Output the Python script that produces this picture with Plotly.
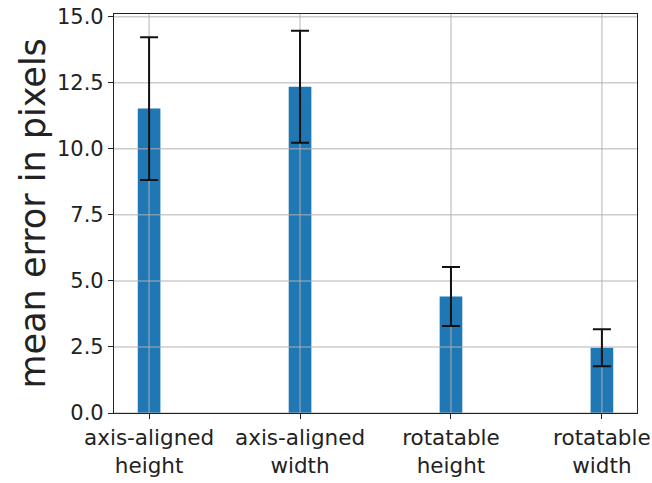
import plotly.graph_objects as go

categories = ["axis-aligned<br>height", "axis-aligned<br>width", "rotatable<br>height", "rotatable<br>width"]
means = [11.52, 12.35, 4.41, 2.47]
errors = [2.70, 2.12, 1.12, 0.70]
ytick_vals = [0.0, 2.5, 5.0, 7.5, 10.0, 12.5, 15.0]

xpos = list(range(len(categories)))
x_range = [-0.2325, 3.2325]
y_range = [0, 15.1]

fig = go.Figure()
fig.add_trace(go.Bar(
    x=xpos, y=means, width=0.15,
    marker=dict(color="#1f77b4", line=dict(width=0)),
    showlegend=False, hoverinfo="skip",
))

grid_color = "rgba(176,176,176,0.65)"
gx, gy = [], []
for v in ytick_vals:
    gx += [x_range[0], x_range[1], None]
    gy += [v, v, None]
for xv in xpos:
    gx += [xv, xv, None]
    gy += [y_range[0], y_range[1], None]
fig.add_trace(go.Scatter(
    x=gx, y=gy, mode="lines", line=dict(color=grid_color, width=1.5),
    showlegend=False, hoverinfo="skip", cliponaxis=True,
))

fig.add_trace(go.Scatter(
    x=xpos, y=means, mode="markers",
    marker=dict(size=1, color="rgba(0,0,0,0)"),
    error_y=dict(type="data", array=errors, visible=True, color="#111111", thickness=2, width=9),
    showlegend=False,
))

fig.update_layout(
    width=652, height=483,
    margin=dict(l=114, r=15, t=14, b=70),
    paper_bgcolor="white", plot_bgcolor="white",
    font=dict(family="DejaVu Sans", size=21, color="#222222"),
    xaxis=dict(
        range=x_range, tickmode="array", tickvals=xpos, ticktext=categories,
        showgrid=False, zeroline=False, showline=True, mirror=True, automargin=False,
        linecolor="#222222", linewidth=1.2, ticks="outside", ticklen=5, tickcolor="#222222",
        tickfont=dict(size=21.5),
    ),
    yaxis=dict(
        range=y_range, tickmode="array", tickvals=ytick_vals, tickformat=".1f",
        showgrid=False, zeroline=False, showline=True, mirror=True, automargin=False,
        linecolor="#222222", linewidth=1.2, ticks="outside", ticklen=5, tickcolor="#222222",
        tickfont=dict(size=21),
    ),
    annotations=[dict(
        text="mean error in pixels", textangle=-90, showarrow=False,
        xref="paper", yref="paper", x=(32 - 114) / 523, y=0.5,
        xanchor="center", yanchor="middle", font=dict(size=35, color="#222222"),
    )],
)

fig.write_html("out.html")
